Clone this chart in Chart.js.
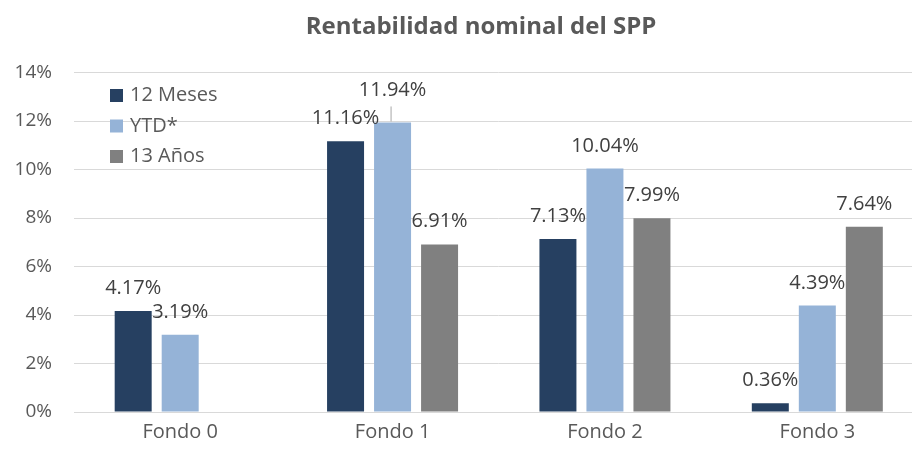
<!DOCTYPE html>
<html>
<head>
<meta charset="utf-8">
<script src="https://cdn.jsdelivr.net/npm/chart.js@4.4.1/dist/chart.umd.min.js"></script>
<style>
  html, body { margin: 0; padding: 0; background: #fff; overflow: hidden; }
  #wrap { width: 962px; height: 452px; position: relative; }
</style>
</head>
<body>
<div id="wrap"><canvas id="chart"></canvas></div>
<script>
// data
const fondos = ['Fondo 0', 'Fondo 1', 'Fondo 2', 'Fondo 3'];
const doceMeses = [4.17, 11.16, 7.13, 0.36];
const ytd = [3.19, 11.94, 10.04, 4.39];
const treceAnos = [null, 6.91, 7.99, 7.64];
const yTicks = [0, 2, 4, 6, 8, 10, 12, 14];

const textColor = '#595959';
const font = '"Open Sans", "DejaVu Sans", sans-serif';

// legend drawn inside the plot, top left (like the excel one)
const insideLegend = {
    id: 'insideLegend',
    afterDraw(chart) {
        const ctx = chart.ctx;
        const area = chart.chartArea;
        ctx.save();
        ctx.font = '20px ' + font;
        ctx.textBaseline = 'middle';
        chart.data.datasets.forEach(function (ds, i) {
            const y = area.top + 23 + i * 30.5;
            ctx.fillStyle = ds.backgroundColor;
            ctx.fillRect(area.left + 36, y - 6.5, 13, 13);
            ctx.fillStyle = textColor;
            ctx.fillText(ds.label, area.left + 56, y);
        });
        ctx.restore();
    }
};

// value labels on top of the bars
const valueLabels = {
    id: 'valueLabels',
    afterDatasetsDraw(chart, args, opts) {
        const ctx = chart.ctx;
        ctx.save();
        ctx.font = '20px ' + font;
        ctx.fillStyle = '#404040';
        ctx.textAlign = 'center';
        ctx.textBaseline = 'alphabetic';
        chart.data.datasets.forEach(function (ds, di) {
            const meta = chart.getDatasetMeta(di);
            meta.data.forEach(function (bar, i) {
                const v = ds.data[i];
                if (v === null || v === undefined) return;
                const extra = opts.nudge[di + '-' + i] || 0;
                ctx.fillText(v.toFixed(2) + '%', bar.x, bar.y - 17 - extra);
                if (extra) {
                    ctx.strokeStyle = '#a6a6a6';
                    ctx.lineWidth = 1;
                    ctx.beginPath();
                    ctx.moveTo(bar.x - 1.5, bar.y - 1);
                    ctx.lineTo(bar.x - 1.5, bar.y - 16);
                    ctx.stroke();
                }
            });
        });
        ctx.restore();
    }
};

const ctx = document.getElementById('chart').getContext('2d');
new Chart(ctx, {
    type: 'bar',
    data: {
        labels: fondos,
        datasets: [
            { label: '12 Meses', data: doceMeses, backgroundColor: '#264061' },
            { label: 'YTD*', data: ytd, backgroundColor: '#95b3d7' },
            { label: '13 Años', data: treceAnos, backgroundColor: '#808080' }
        ]
    },
    options: {
        responsive: true,
        maintainAspectRatio: false,
        animation: false,
        datasets: {
            bar: { categoryPercentage: 0.664, barPercentage: 0.787 }
        },
        plugins: {
            legend: { display: false },
            tooltip: { enabled: false },
            title: {
                display: true,
                text: 'Rentabilidad nominal del SPP',
                color: textColor,
                font: { family: font, size: 24, weight: 'bold' },
                padding: { top: 13, bottom: 30.7 }
            },
            valueLabels: { nudge: { '1-1': 9 } }
        },
        scales: {
            x: {
                grid: { display: false, drawTicks: false },
                border: { display: true, color: '#d9d9d9', width: 1 },
                ticks: { color: textColor, font: { family: font, size: 20 }, padding: 8 },
                afterFit(scale) { scale.height = 40; }
            },
            y: {
                min: 0,
                max: 14,
                afterBuildTicks(scale) { scale.ticks = yTicks.map(v => ({ value: v })); },
                grid: { color: '#d9d9d9', lineWidth: 1, drawTicks: false },
                border: { display: false },
                ticks: {
                    color: textColor,
                    font: { family: font, size: 19 },
                    padding: 22,
                    callback: function (value) { return value + '%'; }
                },
                afterFit(scale) { scale.width = 74; }
            },
            // empty strip on the right so the title stays centred on the whole canvas
            yRight: {
                position: 'right',
                display: true,
                grid: { display: false, drawTicks: false },
                border: { display: false },
                ticks: { display: false },
                afterFit(scale) { scale.width = 38.5; }
            }
        }
    },
    plugins: [insideLegend, valueLabels]
});
</script>
</body>
</html>
